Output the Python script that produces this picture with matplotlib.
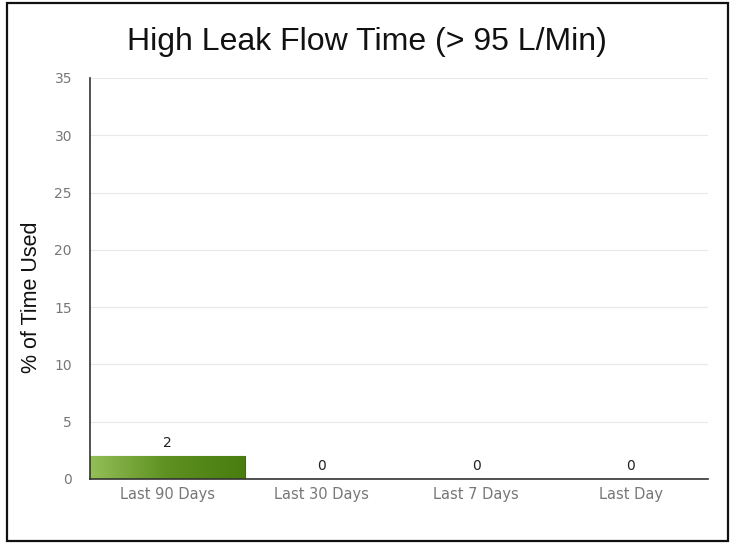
import numpy as np
import matplotlib.pyplot as plt
from matplotlib.patches import Rectangle
from matplotlib.colors import LinearSegmentedColormap

plt.rcParams['font.family'] = ['DejaVu Sans']

categories = ["Last 90 Days", "Last 30 Days", "Last 7 Days", "Last Day"]
values = [2, 0, 0, 0]
yticks = [0, 5, 10, 15, 20, 25, 30, 35]

W, H = 736, 544
fig = plt.figure(figsize=(W / 100, H / 100), dpi=100)
fig.patch.set_facecolor("white")

# outer frame
fig.add_artist(Rectangle((7 / W, 3 / H), 721 / W, 538 / H, transform=fig.transFigure,
                         fill=False, edgecolor="#111111", linewidth=1.6))

ax = fig.add_axes([90 / W, 1 - 479 / H, 618 / W, 401 / H])
x = np.arange(len(categories))
bars = ax.bar(x, values, width=1.0, color="#6a9a2a", edgecolor="#3e6a12", linewidth=0.8, zorder=2)

# gradient fill for the bars
cmap = LinearSegmentedColormap.from_list("g", ["#94bf58", "#5d9020", "#4a7d10"])
grad = np.linspace(0, 1, 256).reshape(1, -1)
for b in bars:
    if b.get_height() <= 0:
        continue
    im = ax.imshow(grad, cmap=cmap, aspect="auto", zorder=2.5,
                   extent=[b.get_x(), b.get_x() + b.get_width(), 0, b.get_height()])
    im.set_clip_path(b)

for xi, v in zip(x, values):
    ax.text(xi, v + 0.55, str(v), ha="center", va="bottom", fontsize=10, color="#222222")

ax.set_xlim(-0.5, 3.5)
ax.set_ylim(0, 35)
ax.set_yticks(yticks)
ax.set_xticks(x)
ax.set_xticklabels(categories)
ax.tick_params(axis="x", labelsize=10.5, colors="#777777", length=0, pad=6)
ax.tick_params(axis="y", labelsize=10, colors="#777777", length=0, pad=13)
ax.grid(axis="y", color="#e8e8e8", linewidth=0.8, zorder=0)
ax.grid(axis="x", visible=False)
ax.set_axisbelow(True)
for s in ["top", "right"]:
    ax.spines[s].set_visible(False)
ax.spines["left"].set_color("#333333")
ax.spines["bottom"].set_color("#333333")
ax.spines["left"].set_linewidth(1.2)
ax.spines["bottom"].set_linewidth(1.2)

fig.text(32 / W, 1 - 297 / H, "% of Time Used", rotation=90, ha="center", va="center",
         fontsize=15.5, color="#111111", family="Liberation Sans")
fig.text(367 / W, 1 - 42 / H, "High Leak Flow Time (> 95 L/Min)", ha="center", va="center",
         fontsize=23, color="#111111", family="Liberation Sans")

fig.savefig("out.png", dpi=100)
